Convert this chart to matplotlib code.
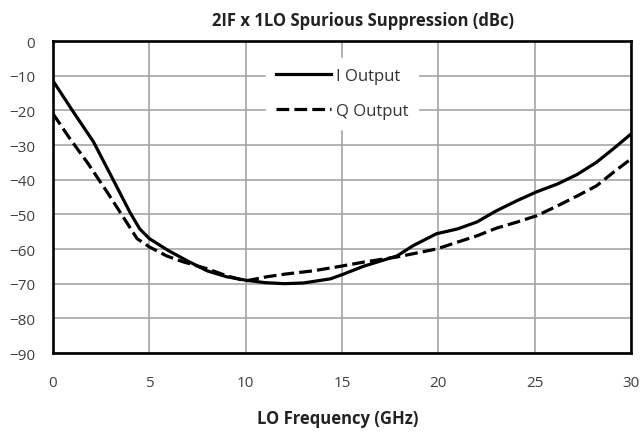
import matplotlib
matplotlib.use("Agg")
from matplotlib import pyplot as plt

# LO frequency (GHz) and spur level (dBc)
i_freq = [0, 1, 2.1, 3.1, 4.0, 4.5, 5.0, 6.0, 7.0, 8.0, 9.0, 10.0, 11.0, 12.0, 13.0, 14.4, 15.05,
          16.1, 17.85, 18.7, 19.9, 21.0, 22.0, 23.0, 24.1, 25.1, 26.2, 27.2, 28.2, 29.1, 30]
i_out = [-11.5, -20, -29.1, -39.8, -49.5, -54.2, -57, -60.5, -63.5, -66.3, -68, -69, -69.7, -70, -69.8, -68.6, -67.3,
         -65, -62, -59, -55.6, -54.2, -52.2, -49, -46, -43.5, -41.2, -38.5, -35, -31, -26.8]

q_freq = [0, 0.88, 1.76, 2.8, 3.6, 4.36, 5.0, 5.9, 6.75, 8.0, 9.0, 10.0, 11.1, 12.1, 13.5, 14.9,
          16.1, 17.85, 19.9, 21.0, 22.0, 23.0, 24.1, 25.1, 26.2, 27.2, 28.2, 29.1, 30]
q_out = [-21, -28.2, -34.9, -43.5, -50.4, -57, -59.4, -62, -63.7, -65.7, -67.7, -69.2, -68, -67.2, -66.3, -65,
         -63.8, -62.3, -60, -58, -56.2, -54, -52.2, -50.4, -47.5, -44.7, -41.8, -37.8, -34]

x_ticks = [0, 5, 10, 15, 20, 25, 30]
y_ticks = [0, -10, -20, -30, -40, -50, -60, -70, -80, -90]

plt.rcParams["font.family"] = ["Open Sans", "DejaVu Sans"]

fig = plt.figure(figsize=(6.42, 4.35), dpi=100)
ax = fig.add_axes([0.0826, 0.1862, 0.9004, 0.7172])

ax.plot(i_freq, i_out, color="black", lw=2.3, label="I Output", zorder=3)
ax.plot(q_freq, q_out, color="black", lw=2.3, ls=(0, (4.0, 1.6)), label="Q Output", zorder=3)

ax.set_xlim(0, 30)
ax.set_ylim(-90, 0)
ax.set_xticks(x_ticks)
ax.set_yticks(y_ticks)
ax.tick_params(length=0, labelsize=11, colors="#404040")
ax.tick_params(axis="x", pad=16)
ax.tick_params(axis="y", pad=13)
ax.grid(True, color="#a6a6a6", lw=1.2)
ax.set_axisbelow(True)
for sp in ax.spines.values():
    sp.set_linewidth(1.9)
    sp.set_color("black")

# title and axis label placed like the original chart
fig.text(362.5 / 642, 1 - 21 / 435, "2IF x 1LO Spurious Suppression (dBc)",
         fontsize=12, fontweight="bold", ha="center", va="center", color="#222222")
fig.text(337.5 / 642, 1 - 419 / 435, "LO Frequency (GHz)",
         fontsize=12, fontweight="bold", ha="center", va="center", color="#222222")

leg = ax.legend(loc="center", bbox_to_anchor=(0.5, 0.832), frameon=True,
                fontsize=12, handlelength=3.3, borderpad=0.6, labelspacing=1.1,
                handletextpad=0.3, fancybox=False, borderaxespad=0)
leg.get_frame().set_edgecolor("white")
leg.get_frame().set_alpha(1.0)
for t in leg.get_texts():
    t.set_color("#333333")

fig.savefig("out.png", dpi=100)
